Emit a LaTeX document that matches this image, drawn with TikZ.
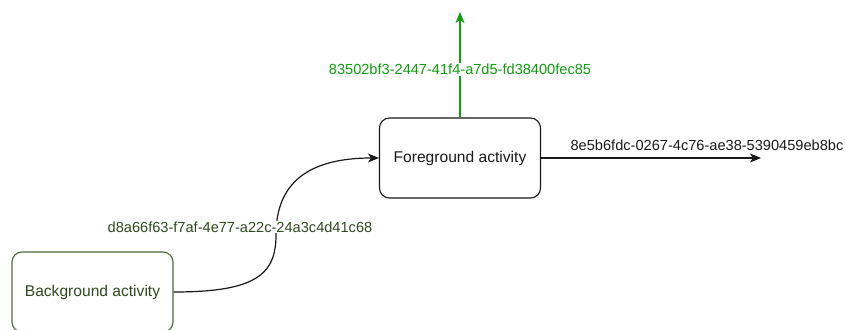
\documentclass[tikz,border=0pt]{standalone}
\usepackage{fontspec}
\setmainfont{Liberation Sans}
\usetikzlibrary{arrows.meta}
\definecolor{dgreen}{HTML}{4A6B35}
\definecolor{dgtext}{HTML}{2E4A1E}
\definecolor{lgreen}{HTML}{0E9E0E}
\tikzset{
  box/.style={draw, rounded corners=10pt, line width=1.1pt, minimum width=161pt, minimum height=80pt, inner sep=0pt, font=\fontsize{15.6}{18}\selectfont},
  lbl/.style={fill=white, inner sep=1pt, font=\fontsize{14.6}{17}\selectfont},
  conn/.style={line width=1.2pt, -{Stealth[length=11pt,width=9pt,inset=3pt]}}
}
\begin{document}
\begin{tikzpicture}[x=1pt,y=-1pt]
\useasboundingbox (0,0) rectangle (845,329);
\clip (0,0) rectangle (845,329);
\node[box, draw=dgreen, text=dgtext] (bg) at (92.5,292) {Background activity};
\node[box, draw=black!90, text=black!90] (fg) at (460,158) {Foreground activity};
\coordinate (top) at (460,12);
\coordinate (right) at (761,158);
\draw[conn, lgreen, line width=1.4pt] (fg.north) -- (top) node[lbl, text=lgreen, pos=0.453] (l1) {83502bf3-2447-41f4-a7d5-fd38400fec85};
\draw[conn, black!90] (fg.east) -- (right);
\node[font=\fontsize{14.6}{17}\selectfont, text=black!90, inner sep=0pt] (l2) at (707,145) {8e5b6fdc-0267-4c76-ae38-5390459eb8bc};
\draw[conn, black!90] (bg.east) .. controls (255,292) and (276,275) .. (276,235) .. controls (276,190) and (300,158) .. (fg.west);
\node[lbl, text=dgtext] (l3) at (240,227) {d8a66f63-f7af-4e77-a22c-24a3c4d41c68};
\end{tikzpicture}
\end{document}
